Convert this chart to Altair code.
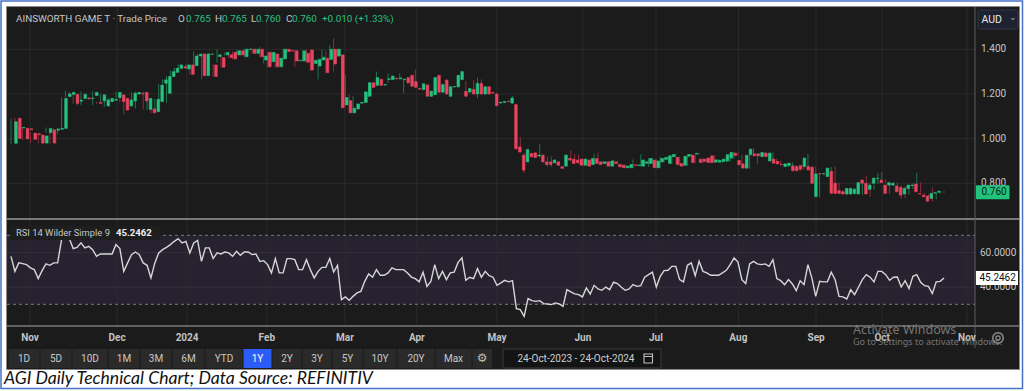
import altair as alt
import pandas as pd

# ---------------- data ----------------
opens = [
    0.979, 1.091, 1.048, 1.046, 1.044, 1.024, 1.022, 1.016, 0.980, 1.027,
    1.039, 1.038, 1.042, 1.046, 1.188, 1.198, 1.198, 1.168, 1.180, 1.182,
    1.180, 1.193, 1.162, 1.169, 1.146, 1.166, 1.172, 1.184, 1.196, 1.180,
    1.146, 1.169, 1.200, 1.202, 1.207, 1.131, 1.133, 1.121, 1.166, 1.248,
    1.203, 1.278, 1.297, 1.315, 1.322, 1.312, 1.330, 1.327, 1.370, 1.379,
    1.282, 1.378, 1.330, 1.368, 1.363, 1.375, 1.375, 1.386, 1.375, 1.393,
    1.367, 1.400, 1.400, 1.382, 1.400, 1.352, 1.386, 1.345, 1.379, 1.322,
    1.357, 1.400, 1.394, 1.393, 1.350, 1.348, 1.382, 1.397, 1.337, 1.325,
    1.352, 1.360, 1.355, 1.400, 1.370, 1.375, 1.151, 1.170, 1.116, 1.133,
    1.159, 1.162, 1.190, 1.250, 1.239, 1.265, 1.240, 1.265, 1.265, 1.270,
    1.268, 1.264, 1.273, 1.283, 1.255, 1.224, 1.220, 1.240, 1.190, 1.197,
    1.283, 1.208, 1.262, 1.190, 1.232, 1.232, 1.265, 1.212, 1.209, 1.220,
    1.200, 1.247, 1.200, 1.232, 1.206, 1.200, 1.160, 1.162, 1.167, 1.159,
    1.152, 0.963, 0.926, 0.896, 0.933, 0.936, 0.922, 0.926, 0.896, 0.896,
    0.892, 0.896, 0.874, 0.877, 0.911, 0.908, 0.904, 0.908, 0.881, 0.904,
    0.884, 0.911, 0.896, 0.889, 0.896, 0.877, 0.896, 0.884, 0.881, 0.870,
    0.870, 0.882, 0.880, 0.877, 0.890, 0.889, 0.904, 0.870, 0.896, 0.907,
    0.889, 0.919, 0.916, 0.889, 0.881, 0.921, 0.926, 0.931, 0.908, 0.908,
    0.913, 0.923, 0.895, 0.895, 0.898, 0.900, 0.913, 0.935, 0.902, 0.887,
    0.868, 0.928, 0.932, 0.932, 0.920, 0.935, 0.900, 0.908, 0.898, 0.884,
    0.875, 0.880, 0.878, 0.875, 0.880, 0.875, 0.875, 0.872, 0.740, 0.843,
    0.842, 0.830, 0.853, 0.800, 0.767, 0.762, 0.752, 0.752, 0.755, 0.752,
    0.815, 0.800, 0.773, 0.800, 0.822, 0.815, 0.792, 0.792, 0.792, 0.788,
    0.782, 0.752, 0.777, 0.790, 0.797, 0.754, 0.747, 0.743, 0.732, 0.756,
    0.760,
]
highs = [
    1.090, 1.095, 1.052, 1.050, 1.050, 1.028, 1.025, 1.020, 1.015, 1.050,
    1.042, 1.045, 1.048, 1.185, 1.215, 1.210, 1.202, 1.200, 1.210, 1.205,
    1.185, 1.213, 1.165, 1.200, 1.175, 1.183, 1.178, 1.210, 1.200, 1.185,
    1.175, 1.207, 1.210, 1.205, 1.210, 1.182, 1.136, 1.178, 1.243, 1.265,
    1.280, 1.303, 1.318, 1.333, 1.325, 1.333, 1.333, 1.390, 1.380, 1.382,
    1.381, 1.382, 1.335, 1.400, 1.380, 1.388, 1.390, 1.390, 1.396, 1.396,
    1.403, 1.403, 1.403, 1.403, 1.412, 1.373, 1.390, 1.390, 1.383, 1.363,
    1.403, 1.403, 1.397, 1.397, 1.353, 1.396, 1.400, 1.400, 1.353, 1.358,
    1.400, 1.394, 1.420, 1.449, 1.403, 1.378, 1.285, 1.196, 1.190, 1.158,
    1.165, 1.212, 1.253, 1.253, 1.300, 1.268, 1.245, 1.292, 1.283, 1.272,
    1.292, 1.268, 1.276, 1.286, 1.311, 1.228, 1.248, 1.243, 1.215, 1.276,
    1.286, 1.245, 1.265, 1.235, 1.236, 1.286, 1.303, 1.258, 1.227, 1.262,
    1.273, 1.265, 1.235, 1.235, 1.210, 1.203, 1.165, 1.168, 1.170, 1.190,
    1.155, 1.007, 0.935, 0.955, 0.937, 0.940, 0.975, 0.930, 0.919, 0.922,
    0.907, 0.900, 0.877, 0.930, 0.948, 0.930, 0.929, 0.912, 0.912, 0.908,
    0.933, 0.938, 0.900, 0.900, 0.900, 0.904, 0.900, 0.888, 0.885, 0.881,
    0.907, 0.886, 0.930, 0.907, 0.911, 0.914, 0.907, 0.919, 0.914, 0.919,
    0.926, 0.933, 0.919, 0.892, 0.924, 0.932, 0.929, 0.936, 0.911, 0.911,
    0.916, 0.926, 0.908, 0.905, 0.911, 0.931, 0.941, 0.938, 0.928, 0.890,
    0.928, 0.956, 0.935, 0.935, 0.941, 0.938, 0.938, 0.911, 0.901, 0.887,
    0.890, 0.893, 0.881, 0.878, 0.883, 0.932, 0.878, 0.875, 0.845, 0.846,
    0.845, 0.873, 0.876, 0.803, 0.770, 0.765, 0.780, 0.780, 0.776, 0.806,
    0.833, 0.803, 0.795, 0.847, 0.850, 0.818, 0.795, 0.806, 0.803, 0.791,
    0.785, 0.780, 0.800, 0.848, 0.804, 0.757, 0.750, 0.782, 0.758, 0.760,
    0.765,
]
lows = [
    0.975, 0.995, 1.040, 0.995, 1.035, 0.980, 1.015, 0.978, 0.978, 1.025,
    0.978, 1.010, 1.020, 1.044, 1.185, 1.195, 1.155, 1.150, 1.150, 1.176,
    1.175, 1.150, 1.156, 1.165, 1.142, 1.163, 1.168, 1.180, 1.163, 1.110,
    1.143, 1.166, 1.135, 1.198, 1.130, 1.128, 1.113, 1.118, 1.163, 1.245,
    1.160, 1.275, 1.295, 1.312, 1.310, 1.310, 1.285, 1.325, 1.368, 1.265,
    1.280, 1.375, 1.275, 1.340, 1.318, 1.372, 1.360, 1.354, 1.372, 1.372,
    1.364, 1.397, 1.380, 1.380, 1.364, 1.337, 1.318, 1.342, 1.318, 1.319,
    1.354, 1.387, 1.390, 1.320, 1.345, 1.345, 1.338, 1.304, 1.334, 1.265,
    1.350, 1.292, 1.352, 1.300, 1.367, 1.135, 1.148, 1.113, 1.113, 1.130,
    1.156, 1.160, 1.187, 1.227, 1.236, 1.236, 1.238, 1.250, 1.262, 1.265,
    1.265, 1.205, 1.247, 1.232, 1.227, 1.218, 1.217, 1.187, 1.187, 1.194,
    1.205, 1.205, 1.197, 1.187, 1.229, 1.229, 1.262, 1.187, 1.206, 1.197,
    1.182, 1.197, 1.197, 1.197, 1.200, 1.145, 1.157, 1.160, 1.164, 1.156,
    0.950, 0.938, 0.845, 0.893, 0.916, 0.913, 0.915, 0.893, 0.874, 0.874,
    0.889, 0.878, 0.864, 0.874, 0.900, 0.886, 0.889, 0.878, 0.878, 0.874,
    0.881, 0.886, 0.881, 0.886, 0.874, 0.874, 0.886, 0.871, 0.867, 0.867,
    0.867, 0.878, 0.875, 0.874, 0.874, 0.886, 0.867, 0.867, 0.893, 0.904,
    0.886, 0.916, 0.881, 0.874, 0.878, 0.918, 0.890, 0.929, 0.890, 0.895,
    0.890, 0.890, 0.892, 0.892, 0.895, 0.897, 0.910, 0.922, 0.880, 0.865,
    0.865, 0.925, 0.885, 0.920, 0.917, 0.917, 0.897, 0.887, 0.884, 0.880,
    0.872, 0.877, 0.853, 0.854, 0.860, 0.872, 0.857, 0.797, 0.737, 0.840,
    0.839, 0.827, 0.752, 0.752, 0.752, 0.749, 0.749, 0.749, 0.752, 0.749,
    0.797, 0.740, 0.770, 0.797, 0.819, 0.800, 0.752, 0.789, 0.789, 0.730,
    0.733, 0.749, 0.774, 0.787, 0.759, 0.749, 0.737, 0.718, 0.729, 0.753,
    0.757,
]
closes = [
    1.076, 1.001, 1.050, 0.999, 1.040, 0.997, 1.018, 0.980, 1.012, 1.045,
    0.980, 1.043, 1.046, 1.180, 1.200, 1.207, 1.158, 1.172, 1.198, 1.178,
    1.181, 1.207, 1.158, 1.196, 1.173, 1.180, 1.176, 1.207, 1.166, 1.128,
    1.173, 1.203, 1.207, 1.200, 1.169, 1.180, 1.116, 1.176, 1.240, 1.263,
    1.278, 1.300, 1.315, 1.330, 1.317, 1.330, 1.288, 1.370, 1.378, 1.282,
    1.379, 1.379, 1.278, 1.375, 1.320, 1.385, 1.363, 1.357, 1.393, 1.375,
    1.400, 1.401, 1.382, 1.400, 1.367, 1.370, 1.322, 1.386, 1.322, 1.360,
    1.400, 1.390, 1.393, 1.348, 1.351, 1.393, 1.342, 1.307, 1.350, 1.355,
    1.364, 1.296, 1.400, 1.334, 1.400, 1.139, 1.184, 1.116, 1.136, 1.155,
    1.162, 1.209, 1.250, 1.230, 1.273, 1.239, 1.242, 1.268, 1.280, 1.268,
    1.272, 1.266, 1.250, 1.235, 1.230, 1.222, 1.245, 1.190, 1.212, 1.273,
    1.208, 1.242, 1.200, 1.232, 1.233, 1.283, 1.300, 1.190, 1.224, 1.200,
    1.247, 1.200, 1.232, 1.200, 1.204, 1.148, 1.163, 1.166, 1.166, 1.182,
    0.955, 0.940, 0.859, 0.951, 0.919, 0.916, 0.926, 0.896, 0.884, 0.884,
    0.904, 0.881, 0.867, 0.926, 0.904, 0.889, 0.892, 0.881, 0.908, 0.877,
    0.911, 0.889, 0.884, 0.896, 0.877, 0.900, 0.889, 0.874, 0.870, 0.877,
    0.884, 0.881, 0.882, 0.904, 0.896, 0.911, 0.870, 0.900, 0.911, 0.916,
    0.923, 0.929, 0.884, 0.877, 0.921, 0.929, 0.893, 0.934, 0.893, 0.898,
    0.893, 0.893, 0.905, 0.902, 0.908, 0.928, 0.938, 0.925, 0.883, 0.868,
    0.925, 0.953, 0.923, 0.923, 0.938, 0.920, 0.935, 0.890, 0.887, 0.883,
    0.887, 0.890, 0.856, 0.857, 0.863, 0.913, 0.860, 0.800, 0.842, 0.842,
    0.843, 0.868, 0.755, 0.755, 0.755, 0.752, 0.777, 0.777, 0.773, 0.803,
    0.800, 0.752, 0.792, 0.823, 0.823, 0.803, 0.755, 0.803, 0.800, 0.762,
    0.747, 0.777, 0.792, 0.792, 0.762, 0.752, 0.740, 0.720, 0.755, 0.758,
    0.765,
]
rsi = [
    57.8, 49.1, 54.0, 53.6, 53.0, 51.1, 50.1, 44.9, 49.5, 53.4,
    52.6, 54.0, 54.0, 67.5, 68.5, 68.1, 62.3, 63.0, 65.6, 62.7,
    63.6, 61.7, 57.8, 59.2, 59.2, 59.2, 59.2, 64.6, 62.3, 49.1,
    54.0, 58.8, 60.3, 58.8, 54.0, 52.6, 45.3, 54.0, 59.8, 61.7,
    63.0, 64.6, 66.5, 68.1, 65.6, 66.5, 59.8, 65.6, 67.0, 54.9,
    62.7, 62.7, 56.5, 59.8, 59.2, 60.3, 59.8, 57.8, 60.7, 58.4,
    60.3, 60.3, 58.8, 59.2, 54.9, 55.3, 53.0, 48.2, 56.5, 48.2,
    48.2, 56.5, 56.5, 55.9, 50.1, 50.1, 55.9, 50.1, 45.3, 49.1,
    51.4, 51.4, 56.5, 48.7, 52.6, 32.7, 34.3, 32.3, 34.6, 36.6,
    37.5, 43.3, 47.6, 45.7, 50.1, 46.8, 46.8, 48.2, 51.1, 50.1,
    50.1, 50.1, 48.2, 45.8, 44.9, 43.0, 48.6, 40.4, 43.3, 53.0,
    44.9, 49.1, 44.3, 48.2, 48.6, 54.3, 56.9, 43.9, 45.7, 44.9,
    50.7, 45.7, 49.1, 46.6, 45.7, 41.0, 42.4, 43.9, 43.0, 43.7,
    27.5, 26.9, 23.0, 33.3, 32.1, 31.7, 32.1, 30.4, 30.2, 29.8,
    30.8, 30.2, 28.8, 38.5, 37.2, 36.0, 35.6, 34.3, 39.5, 36.0,
    41.0, 38.9, 38.1, 40.0, 38.5, 42.8, 42.0, 39.9, 38.1, 38.9,
    41.4, 40.4, 40.8, 45.7, 47.2, 48.6, 40.0, 46.2, 49.5, 49.7,
    52.0, 52.0, 44.3, 43.0, 52.6, 54.0, 46.6, 54.9, 49.1, 48.2,
    46.8, 46.8, 46.8, 48.2, 49.7, 53.0, 56.9, 54.5, 44.3, 42.0,
    53.4, 54.9, 53.4, 53.0, 53.4, 52.0, 55.9, 44.9, 43.7, 41.4,
    44.3, 41.8, 37.9, 43.7, 41.4, 53.0, 45.3, 34.6, 43.3, 43.0,
    43.0, 48.6, 44.3, 34.6, 34.3, 33.1, 38.5, 35.6, 39.9, 44.3,
    47.2, 45.7, 43.0, 49.1, 49.1, 47.2, 43.9, 45.7, 45.8, 40.0,
    43.7, 39.1, 46.2, 47.2, 42.8, 40.8, 40.4, 36.2, 43.0, 43.3,
    45.2462,
]

month_labels = ["Nov", "Dec", "2024", "Feb", "Mar", "Apr", "May", "Jun",
                "Jul", "Aug", "Sep", "Oct", "Nov"]
month_pos = [5.9, 28.3, 46.3, 66.8, 86.9, 105.4, 126.0, 148.1, 166.9,
             188.1, 208.1, 225.1, 246.9]
price_ticks = [0.8, 1.0, 1.2, 1.4]
price_tick_labels = ["0.800", "1.000", "1.200", "1.400"]
rsi_grid = [40, 60]
rsi_tick_labels = ["40.0000", "60.0000"]
rsi_levels = [30, 70]
last_price = [0.760]
last_price_label = ["0.760"]
last_rsi = [45.2462]
last_rsi_label = ["45.2462"]

header_texts = ["AINSWORTH GAME T · Trade Price", "O", "0.765", "H", "0.765",
                "L", "0.760", "C", "0.760", "+0.010 (+1.33%)"]
range_buttons = ["1D", "5D", "10D", "1M", "3M", "6M", "YTD", "1Y", "2Y", "3Y",
                 "5Y", "10Y", "20Y", "Max"]
active_button = "1Y"
date_range_text = "24-Oct-2023  -  24-Oct-2024"
caption = "AGI Daily Technical Chart; Data Source: REFINITIV"

# ---------------- layout / style (pixels, colours) ----------------
W, H = 1029, 391
PLOT_L, PLOT_R = 7, 975
PANEL_R = 1019.5
SEP_Y = 219
RSI_BOT = 326
GREEN, RED = "#26c281", "#eb4460"
GREEN_D, RED_D = "#1d7450", "#8f2b3e"
BG = "#1b1b1b"
GRID = "#2b2b2b"
TXT = "#c6c6c6"
FONT = "Roboto"

header_x = [16, 178, 186, 215, 222, 251, 256, 286, 292, 322]
header_col = [TXT, TXT, GREEN, TXT, GREEN, TXT, GREEN, TXT, GREEN, GREEN]
button_edges = [8, 40, 72, 108, 140, 172, 205, 243, 272, 302, 332, 363, 397,
                435, 472]

xs = alt.Scale(domain=[1, 241], range=[11, 944], nice=False, zero=False)
py = alt.Scale(domain=[0.8, 1.4], range=[183.3, 49.3], nice=False, zero=False)
ry = alt.Scale(domain=[30, 70], range=[304.3, 235.3], nice=False, zero=False)

df = pd.DataFrame({"i": list(range(1, len(closes) + 1)), "o": opens,
                   "h": highs, "l": lows, "c": closes, "rsi": rsi})
one = pd.DataFrame({"k": [0]})

up = "datum.c >= datum.o"


def rect(x, x2, y, y2, **kw):
    return alt.Chart(one).mark_rect(**kw).encode(
        x=alt.value(x), x2=alt.value(x2), y=alt.value(y), y2=alt.value(y2))


def hline(y, x, x2, **kw):
    return alt.Chart(one).mark_rule(**kw).encode(
        x=alt.value(x), x2=alt.value(x2), y=alt.value(y))


def vline(x, y, y2, **kw):
    return alt.Chart(one).mark_rule(**kw).encode(
        x=alt.value(x), y=alt.value(y), y2=alt.value(y2))


def label(text, x, y, **kw):
    opts = dict(align="left", baseline="middle", font=FONT, fontSize=10,
                color=TXT)
    opts.update(kw)
    return alt.Chart(one).mark_text(text=text, **opts).encode(
        x=alt.value(x), y=alt.value(y))


layers = []
# frame + dark panel
layers.append(rect(6.5, PANEL_R, 6.5, 369.5, fill=BG, stroke="#8a8a8a",
                   strokeWidth=1))
layers.append(rect(1, 1022.5, 1, 388.5, fill=None, filled=False,
                   stroke="#4472c4", strokeWidth=1.5))

# RSI band
band_df = pd.DataFrame({"lo": [rsi_levels[0]], "hi": [rsi_levels[1]]})
layers.append(alt.Chart(band_df).mark_rect(color="#272230").encode(
    x=alt.value(PLOT_L), x2=alt.value(PLOT_R),
    y=alt.Y("hi:Q", scale=ry, axis=None), y2="lo:Q"))

# grid lines
layers.append(alt.Chart(pd.DataFrame({"v": price_ticks})).mark_rule(
    color=GRID, strokeWidth=1).encode(
    y=alt.Y("v:Q", scale=py, axis=None), x=alt.value(PLOT_L),
    x2=alt.value(PLOT_R)))
layers.append(alt.Chart(pd.DataFrame({"v": rsi_grid})).mark_rule(
    color="#35303d", strokeWidth=1).encode(
    y=alt.Y("v:Q", scale=ry, axis=None), x=alt.value(PLOT_L),
    x2=alt.value(PLOT_R)))
layers.append(alt.Chart(pd.DataFrame({"p": month_pos})).mark_rule(
    color=GRID, strokeWidth=1).encode(
    x=alt.X("p:Q", scale=xs, axis=None), y=alt.value(7),
    y2=alt.value(RSI_BOT)))
layers.append(alt.Chart(pd.DataFrame({"v": rsi_levels})).mark_rule(
    color="#7a7a7a", strokeWidth=1, strokeDash=[3, 3]).encode(
    y=alt.Y("v:Q", scale=ry, axis=None), x=alt.value(PLOT_L),
    x2=alt.value(PLOT_R)))

# candles
cond = alt.condition(up, alt.value(GREEN_D), alt.value(RED_D))
condb = alt.condition(up, alt.value(GREEN), alt.value(RED))
layers.append(alt.Chart(df).mark_rule(strokeWidth=1).encode(
    x=alt.X("i:Q", scale=xs, axis=None),
    y=alt.Y("l:Q", scale=py, axis=None), y2="h:Q", color=cond))
layers.append(alt.Chart(df).mark_bar(size=2.6, strokeWidth=0.6).encode(
    x=alt.X("i:Q", scale=xs, axis=None),
    y=alt.Y("o:Q", scale=py, axis=None), y2="c:Q", fill=condb, stroke=condb))

# RSI line
layers.append(alt.Chart(df).mark_line(color="#d6d6d6", strokeWidth=1.4).encode(
    x=alt.X("i:Q", scale=xs, axis=None), y=alt.Y("rsi:Q", scale=ry, axis=None)))

# separators
layers.append(hline(SEP_Y, 7, PANEL_R, color="#9a9a9a", strokeWidth=1.6))
layers.append(hline(RSI_BOT, 7, PANEL_R, color="#7a7a7a", strokeWidth=1.6))
layers.append(vline(PLOT_R, 7, 348, color="#5e5e5e", strokeWidth=1))

# right axis labels
layers.append(alt.Chart(pd.DataFrame({"v": price_ticks, "t": price_tick_labels}))
              .mark_text(align="left", baseline="middle", font=FONT,
                         fontSize=10, color=TXT)
              .encode(y=alt.Y("v:Q", scale=py, axis=None), x=alt.value(981),
                      text="t:N"))
layers.append(alt.Chart(pd.DataFrame({"v": rsi_grid, "t": rsi_tick_labels}))
              .mark_text(align="left", baseline="middle", font=FONT,
                         fontSize=10, color=TXT)
              .encode(y=alt.Y("v:Q", scale=ry, axis=None), x=alt.value(980),
                      text="t:N"))

# last value boxes
lp = pd.DataFrame({"v": last_price, "t": last_price_label})
layers.append(alt.Chart(lp).mark_rect(color="#22c47d", yOffset=-7,
                                      y2Offset=7, cornerRadius=1).encode(
    y=alt.Y("v:Q", scale=py, axis=None), y2="v:Q",
    x=alt.value(976), x2=alt.value(1009.5)))
layers.append(alt.Chart(lp).mark_text(align="left", baseline="middle",
                                      font=FONT, fontSize=10,
                                      color="#0e1a12").encode(
    y=alt.Y("v:Q", scale=py, axis=None), x=alt.value(981.5), text="t:N"))
lr = pd.DataFrame({"v": last_rsi, "t": last_rsi_label})
layers.append(alt.Chart(lr).mark_rect(color="#ffffff", yOffset=-7,
                                      y2Offset=7).encode(
    y=alt.Y("v:Q", scale=ry, axis=None), y2="v:Q",
    x=alt.value(976), x2=alt.value(1018)))
layers.append(alt.Chart(lr).mark_text(align="left", baseline="middle",
                                      font=FONT, fontSize=10,
                                      color="#111111").encode(
    y=alt.Y("v:Q", scale=ry, axis=None), x=alt.value(979.5), text="t:N"))

# month labels
layers.append(alt.Chart(pd.DataFrame({"p": month_pos, "t": month_labels}))
              .mark_text(baseline="middle", font=FONT, fontSize=10,
                         fontWeight="bold", color="#c2c2c2")
              .encode(x=alt.X("p:Q", scale=xs, axis=None),
                      y=alt.value(337.5), text="t:N"))

# header
for t, x, c in zip(header_texts, header_x, header_col):
    layers.append(label(t, x, 19, color=c, fontSize=9.9))

# AUD selector
layers.append(rect(978, 1018, 10, 29, fill="#1e2230", stroke="#30364a",
                   strokeWidth=1, cornerRadius=2))
layers.append(label("AUD", 981.5, 19.5, color="#e6e6e6", fontSize=10.5))
layers.append(label("⌄", 1009, 17, color="#aaaaaa", fontSize=9,
                    font="DejaVu Sans"))

# RSI legend
layers.append(rect(10, 160, 226, 240, fill="#1e1e1e"))
layers.append(label("RSI 14 Wilder Simple 9", 16, 232.5, fontSize=9.4))
layers.append(label("45.2462", 116, 232.5, fontSize=9.6, fontWeight="bold",
                    color="#f0f0f0"))

# settings icon (right of time axis)
layers.append(alt.Chart(one).mark_point(shape="circle", filled=False,
                                        size=110, strokeWidth=1.5,
                                        color="#bdbdbd").encode(
    x=alt.value(998), y=alt.value(338)))
layers.append(alt.Chart(one).mark_point(shape="circle", filled=False,
                                        size=18, strokeWidth=1.3,
                                        color="#bdbdbd").encode(
    x=alt.value(998), y=alt.value(338)))

# range buttons
for k, b in enumerate(range_buttons):
    x0, x1 = button_edges[k], button_edges[k + 1]
    active = b == active_button
    layers.append(rect(x0 + 0.5, x1 - 0.5, 349, 368,
                       fill="#2b5cf6" if active else "#2a2a2a"))
    layers.append(label(b, (x0 + x1) / 2, 358.5, align="center",
                        color="#ffffff" if active else "#c8c8c8"))
layers.append(rect(472.5, 492, 349, 368, fill="#2a2a2a"))
layers.append(label("⚙", 482, 358, align="center", font="DejaVu Sans",
                    fontSize=12, color="#bdbdbd"))
layers.append(rect(503, 661, 349, 368, fill="#141414", stroke="#3a3a3a",
                   strokeWidth=1))
layers.append(label(date_range_text, 576, 358.5, align="center",
                    color="#cfcfcf"))
layers.append(rect(644, 652.5, 354, 363, fill=None, filled=False,
                   stroke="#bdbdbd", strokeWidth=1.1))
layers.append(hline(356.5, 644, 652.5, color="#bdbdbd", strokeWidth=1))

# watermark (as in the reference screenshot)
layers.append(label("Activate Windows", 853, 329.5, fontSize=12.5,
                    font="Noto Sans", color="#8c8c8c", opacity=0.8))
layers.append(label("Go to Settings to activate Windows.", 853, 341.5,
                    fontSize=9, font="Noto Sans", color="#8c8c8c",
                    opacity=0.8))

# caption
layers.append(label(caption, 4, 378.5, font="Lato", fontSize=17.6,
                    fontStyle="italic", color="#111111"))

chart = alt.layer(*layers).resolve_scale(
    x="independent", y="independent", color="independent",
    fill="independent", stroke="independent"
).properties(
    width=W, height=H, padding=0, background="white",
    autosize=alt.AutoSizeParams(type="none")
).configure_view(stroke=None)

chart.save("out.html", embed_options={"renderer": "svg", "actions": False})
